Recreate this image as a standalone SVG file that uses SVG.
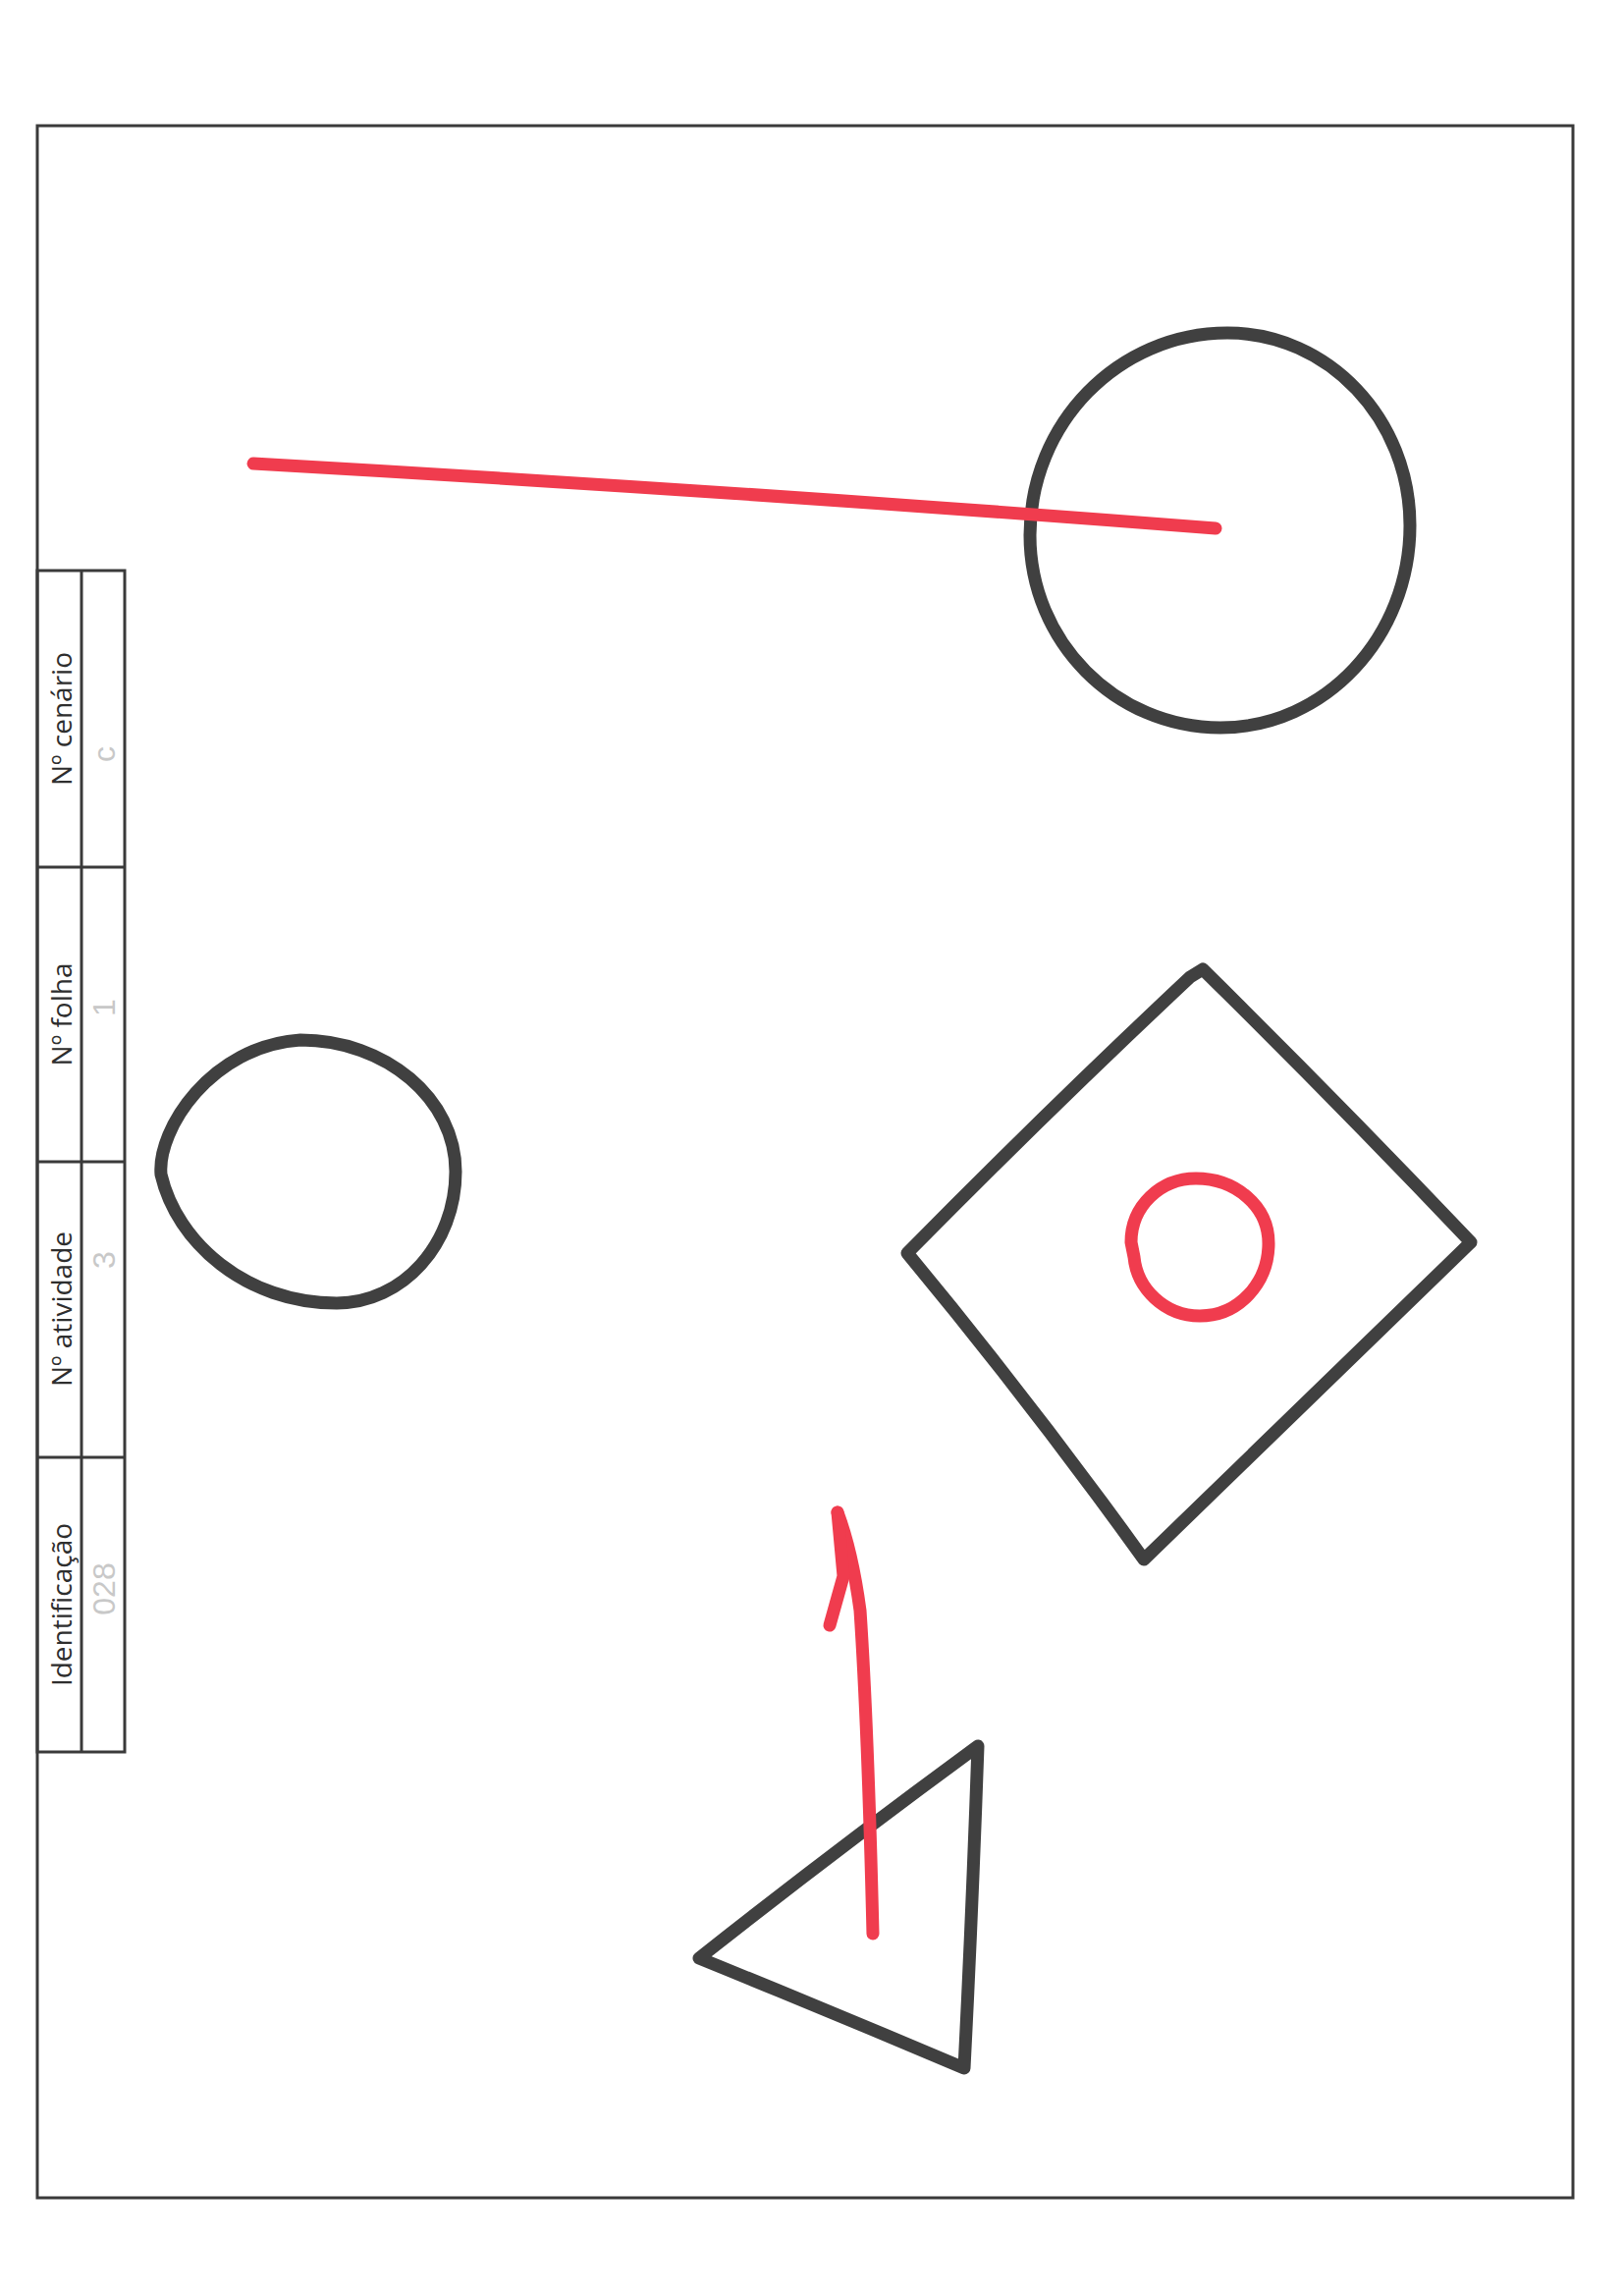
<svg xmlns="http://www.w3.org/2000/svg" width="1654" height="2338" viewBox="0 0 1654 2338">
  <style>
    .frame { fill: none; stroke: #3a3a3a; stroke-width: 3; }
    .grid { fill: none; stroke: #3a3a3a; stroke-width: 3; }
    .label { font-family: "Open Sans", "Liberation Sans", sans-serif; font-size: 28px; fill: #2e2e2e; text-anchor: middle; dominant-baseline: central; }
    .hand { font-family: "Liberation Sans", sans-serif; font-size: 32px; fill: #c8c8c8; text-anchor: middle; dominant-baseline: central; }
    .ink { fill: none; stroke: #404040; stroke-width: 13; stroke-linecap: round; stroke-linejoin: round; }
    .red { fill: none; stroke: #f03c4e; stroke-width: 13; stroke-linecap: round; stroke-linejoin: round; }
  </style>
  <rect width="1654" height="2338" fill="#ffffff"/>

  <g id="frame">
    <rect class="frame" x="38" y="128" width="1564" height="2110"/>
  </g>

  <g id="title-block">
    <rect class="grid" x="38" y="581" width="89" height="1203"/>
    <line class="grid" x1="83" y1="581" x2="83" y2="1784"/>
    <line class="grid" x1="38" y1="883" x2="127" y2="883"/>
    <line class="grid" x1="38" y1="1183" x2="127" y2="1183"/>
    <line class="grid" x1="38" y1="1484" x2="127" y2="1484"/>
    <text class="label" transform="translate(62,732) rotate(-90)">Nº cenário</text>
    <text class="label" transform="translate(62,1033) rotate(-90)">Nº folha</text>
    <text class="label" transform="translate(62,1333) rotate(-90)">Nº atividade</text>
    <text class="label" transform="translate(62,1634) rotate(-90)">Identificação</text>
    <text class="hand" transform="translate(106,768) rotate(-90)">c</text>
    <text class="hand" transform="translate(106,1026) rotate(-90)">1</text>
    <text class="hand" transform="translate(106,1283) rotate(-90)">3</text>
    <text class="hand" transform="translate(106,1618) rotate(-90)">028</text>
  </g>

  <g id="big-circle">
    <path class="ink" d="M1250,339 C1352.7,339 1436,426.7 1436,535 C1436,648.8 1349.6,741 1243,741 C1135.9,741 1049,653.2 1049,545 C1049,431.2 1139,339 1250,339 Z"/>
  </g>

  <g id="small-circle">
    <path class="ink" d="M164,1196 C160,1150 215,1065 306,1059 C393,1059 464,1119 464,1193 C464,1267 410,1327 343,1327 C250,1327 180,1265 164,1196 Z"/>
  </g>

  <g id="diamond">
    <path class="ink" d="M1225,987 Q1365,1125 1498,1265 Q1330,1428 1165,1588 Q1050,1428 924,1276 Q1070,1128 1212,995 Z"/>
  </g>

  <g id="red-circle">
    <path class="red" d="M1152,1265 C1152,1228 1182,1200 1218,1200 C1258,1200 1292,1228 1292,1266 C1292,1306 1262,1340 1222,1340 C1186,1340 1158,1312 1155,1280 Z"/>
  </g>

  <g id="triangle">
    <path class="ink" d="M996,1778 Q990,1950 982,2106 Q850,2050 712,1994 Q850,1885 996,1778 Z"/>
  </g>

  <g id="connectors">
    <path class="red" d="M258,472 Q750,500 1238,538"/>
    <path class="red" d="M889,1969 Q884,1760 876,1640 Q868,1580 853,1540"/>
    <path class="red" d="M853,1540 L859,1605 L845,1655"/>
  </g>
</svg>
